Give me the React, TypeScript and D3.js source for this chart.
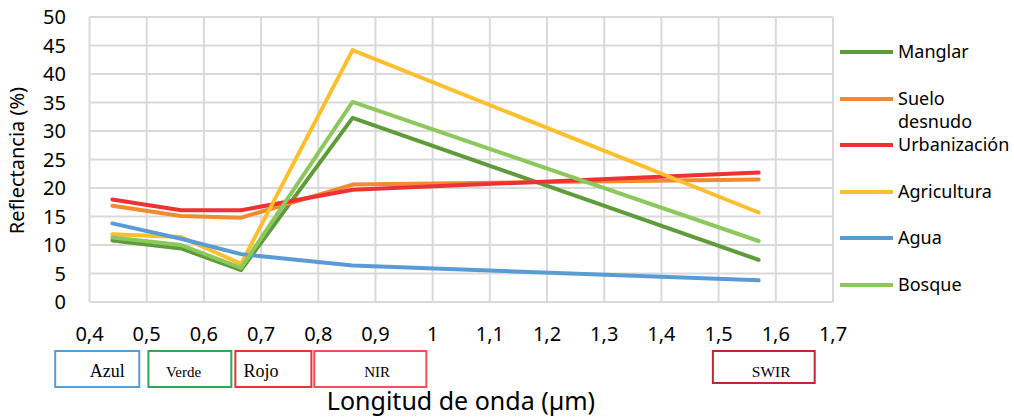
import React from "react";
import * as d3 from "d3";

// wavelengths (µm) of the sampled bands
const wavelengths = [0.44, 0.56, 0.665, 0.86, 1.57];

const seriesNames = ["Manglar", "Suelo desnudo", "Urbanización", "Agricultura", "Agua", "Bosque"];
const seriesColors = ["#5f9b3b", "#f28a2e", "#ee3134", "#fdbf2d", "#5b9bd5", "#8cc85c"];

const manglar = [10.8, 9.4, 5.6, 32.3, 7.4];
const sueloDesnudo = [16.9, 15.1, 14.8, 20.6, 21.5];
const urbanizacion = [18.0, 16.1, 16.1, 19.7, 22.7];
const agricultura = [11.9, 11.4, 6.7, 44.2, 15.7];
const agua = [13.8, 11.1, 8.4, 6.4, 3.8];
const bosque = [11.3, 10.0, 6.0, 35.1, 10.7];

const seriesValues = [manglar, sueloDesnudo, urbanizacion, agricultura, agua, bosque];

const xTicks = [0.4, 0.5, 0.6, 0.7, 0.8, 0.9, 1, 1.1, 1.2, 1.3, 1.4, 1.5, 1.6, 1.7];
const yTicks = [0, 5, 10, 15, 20, 25, 30, 35, 40, 45, 50];

// spectral band labels under the axis (box range and label centre in µm)
const bandNames = ["Azul", "Verde", "Rojo", "NIR", "SWIR"];
const bandRanges = [[0.34, 0.487], [0.503, 0.648], [0.655, 0.788], [0.793, 0.989], [1.49, 1.668]];
const bandLabelAt = [0.431, 0.5645, 0.7, 0.903, 1.592];
const bandColors = ["#5b9bd5", "#2fa84f", "#e8323a", "#ef4f5a", "#c2262e"];
const bandFont = [18, 15, 18, 15, 15.5];

const font = "'Noto Sans', 'Open Sans', sans-serif";

export default function App() {
    const W = 1014;
    const H = 419;
    const left = 89.5;
    const right = 833;
    const top = 17;
    const bottom = 302;

    const x = d3.scaleLinear().domain([0.4, 1.7]).range([left, right]);
    const y = d3.scaleLinear().domain([0, 50]).range([bottom, top]);

    const line = d3
        .line<number>()
        .x((d, i) => x(wavelengths[i]))
        .y((d) => y(d));

    const fmt = (v: number) => String(v).replace(".", ",");

    const legendY = [52, 99, 145, 192, 238, 285];

    return (
        <svg
            width={W}
            height={H}
            style={{ position: "absolute", left: 0, top: 0, background: "#fff" }}
            fontFamily={font}
        >
            {/* grid */}
            {yTicks.map((t) => (
                <line key={"gy" + t} x1={left} x2={right} y1={y(t)} y2={y(t)} stroke="#d9d9d9" strokeWidth={2} />
            ))}
            {xTicks.map((t) => (
                <line key={"gx" + t} x1={x(t)} x2={x(t)} y1={top} y2={bottom} stroke="#d9d9d9" strokeWidth={2} />
            ))}

            {/* y tick labels */}
            {yTicks.map((t) => (
                <text key={"ty" + t} x={66} y={y(t)} dy="0.36em" textAnchor="end" fontSize={20} fill="#000">
                    {t}
                </text>
            ))}
            {/* x tick labels */}
            {xTicks.map((t) => (
                <text key={"tx" + t} x={x(t)} y={341} textAnchor="middle" fontSize={20} fill="#000">
                    {fmt(t)}
                </text>
            ))}

            {/* series */}
            {seriesValues.map((vals, i) => (
                <path
                    key={seriesNames[i]}
                    d={line(vals) || ""}
                    fill="none"
                    stroke={seriesColors[i]}
                    strokeWidth={4}
                    strokeLinejoin="round"
                    strokeLinecap="round"
                />
            ))}

            {/* axis titles */}
            <text
                transform={`translate(24,${(top + bottom) / 2 + 1}) rotate(-90)`}
                textAnchor="middle"
                fontSize={20}
                fill="#000"
            >
                Reflectancia (%)
            </text>
            <text x={461} y={410} textAnchor="middle" fontSize={25} fill="#000">
                Longitud de onda (µm)
            </text>

            {/* legend */}
            {seriesNames.map((name, i) => {
                const ly = legendY[i];
                const parts = name === "Suelo desnudo" ? ["Suelo", "desnudo"] : [name];
                return (
                    <g key={"lg" + name}>
                        <line x1={840} x2={893} y1={ly} y2={ly} stroke={seriesColors[i]} strokeWidth={4} />
                        {parts.map((p, j) => (
                            <text key={p} x={898} y={ly + j * 23} dy="0.36em" fontSize={18} fill="#000">
                                {p}
                            </text>
                        ))}
                    </g>
                );
            })}

            {/* band boxes */}
            {bandNames.map((b, i) => {
                const x0 = x(bandRanges[i][0]);
                const x1 = x(bandRanges[i][1]);
                return (
                    <g key={"band" + b}>
                        <rect
                            x={x0}
                            y={351}
                            width={x1 - x0}
                            height={b === "SWIR" ? 32 : 36}
                            fill="#fff"
                            stroke={bandColors[i]}
                            strokeWidth={2}
                        />
                        <text
                            x={x(bandLabelAt[i])}
                            y={377}
                            textAnchor="middle"
                            fontSize={bandFont[i]}
                            fontFamily="'Liberation Serif', 'DejaVu Serif', serif"
                            fill="#000"
                        >
                            {b}
                        </text>
                    </g>
                );
            })}
        </svg>
    );
}
